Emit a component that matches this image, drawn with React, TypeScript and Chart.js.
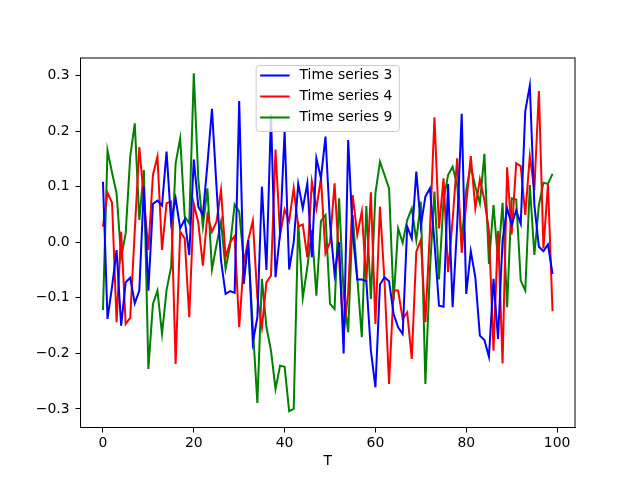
import { useEffect, useRef } from "react";
import { Chart, registerables } from "chart.js";

Chart.register(...registerables);

// x positions 0..99
const steps = Array.from({ length: 100 }, (_, i) => i);

const series3 = [
  0.109, -0.138, -0.08, -0.014, -0.15, -0.072, -0.064, -0.11, -0.087, 0.1,
  -0.087, 0.069, 0.075, 0.066, 0.163, 0.037, 0.079, 0.025, 0.041, -0.023,
  0.149, 0.064, 0.049, 0.14, 0.24, 0.1, -0.033, -0.093, -0.088, -0.091,
  0.254, -0.075, 0.004, -0.18, -0.135, 0.1, -0.05, 0.23, -0.063, 0.016,
  0.2, -0.049, 0.0, 0.105, 0.061, 0.106, -0.027, 0.151, 0.115, 0.19,
  0.034, -0.057, 0.0, -0.2, 0.184, 0.016, -0.067, -0.067, -0.07, -0.195,
  -0.261, -0.076, -0.063, -0.07, -0.129, -0.153, -0.165, 0.028, 0.007, 0.127,
  0.03, 0.082, 0.097, 0.0, -0.114, -0.116, 0.105, -0.117, 0.03, 0.231,
  -0.093, -0.016, -0.063, -0.168, -0.176, -0.206, -0.066, -0.174, 0.004, 0.061,
  0.031, 0.057, 0.033, 0.236, 0.282, 0.067, -0.008, -0.016, -0.004, -0.057,
];

const series4 = [
  0.028, 0.089, 0.071, -0.144, 0.019, -0.147, -0.136, 0.02, 0.171, 0.08,
  -0.014, 0.121, 0.154, -0.014, 0.07, 0.073, -0.219, 0.019, 0.007, -0.135,
  0.069, 0.035, -0.042, 0.049, 0.019, 0.037, 0.094, -0.027, 0.0, 0.011,
  -0.153, -0.036, 0.004, 0.039, -0.1, -0.153, -0.072, -0.06, 0.167, 0.013,
  0.059, 0.038, 0.097, 0.028, 0.032, -0.027, 0.109, 0.061, 0.115, -0.02,
  0.0, 0.106, -0.03, -0.165, -0.09, 0.085, 0.013, 0.055, -0.072, 0.09,
  -0.147, 0.064, -0.07, -0.255, -0.087, -0.087, -0.138, -0.126, -0.21, -0.017,
  0.004, -0.144, 0.02, 0.225, 0.025, 0.115, -0.054, 0.04, 0.151, -0.019,
  0.07, 0.155, 0.061, 0.113, 0.076, 0.02, -0.195, 0.02, -0.218, 0.135,
  0.014, 0.142, 0.137, 0.049, 0.155, 0.094, 0.272, -0.011, 0.105, -0.124,
];

const series9 = [
  -0.122, 0.165, 0.125, 0.088, -0.027, 0.016, 0.154, 0.214, 0.04, 0.13,
  -0.228, -0.111, -0.087, -0.165, -0.086, -0.045, 0.142, 0.187, 0.046, 0.034,
  0.304, 0.112, 0.028, 0.097, -0.049, -0.005, 0.037, -0.048, -0.005, 0.068,
  0.055, -0.033, -0.011, -0.153, -0.289, -0.066, -0.153, -0.195, -0.264, -0.222,
  -0.224, -0.304, -0.3, 0.037, -0.1, -0.045, 0.022, -0.096, 0.038, 0.049,
  -0.111, -0.12, 0.079, -0.093, -0.162, 0.049, -0.063, -0.171, 0.065, -0.102,
  0.088, 0.145, 0.121, 0.097, -0.105, 0.025, -0.001, 0.04, 0.061, 0.004,
  0.073, -0.255, -0.05, 0.091, -0.067, 0.076, 0.121, 0.136, 0.103, 0.004,
  0.094, 0.137, 0.1, 0.07, 0.159, -0.039, 0.067, -0.033, 0.071, -0.117,
  0.079, 0.077, -0.069, -0.087, 0.103, -0.023, 0.067, 0.107, 0.105, 0.123,
];

const xTicks = [0, 20, 40, 60, 80, 100];
const yTicks = [-0.3, -0.2, -0.1, 0, 0.1, 0.2, 0.3];

const FONT = "DejaVu Sans";
const FS = 13.9;

// matplotlib-style frame + legend box inside the axes
const mplDecor = {
  id: "mplDecor",
  afterDraw(chart: any) {
    const { ctx, chartArea: a } = chart;
    ctx.save();
    ctx.strokeStyle = "#000";
    ctx.lineWidth = 1;
    ctx.strokeRect(a.left, a.top, a.right - a.left, a.bottom - a.top);

    ctx.font = `${FS}px ${FONT}`;
    const items = chart.data.datasets.map((d: any) => ({ label: d.label, color: d.borderColor }));
    const textW = Math.max(...items.map((it: any) => ctx.measureText(it.label).width));
    const w = 43.4 + textW + 7;
    const h = 66;
    const x = (a.left + a.right) / 2 - w / 2;
    const y = a.top + 7.5;
    const r = 3;
    ctx.beginPath();
    ctx.moveTo(x + r, y);
    ctx.arcTo(x + w, y, x + w, y + h, r);
    ctx.arcTo(x + w, y + h, x, y + h, r);
    ctx.arcTo(x, y + h, x, y, r);
    ctx.arcTo(x, y, x + w, y, r);
    ctx.closePath();
    ctx.fillStyle = "rgba(255,255,255,0.8)";
    ctx.fill();
    ctx.strokeStyle = "#cccccc";
    ctx.stroke();

    items.forEach((it: any, k: number) => {
      const cy = y + 10 + k * 21;
      ctx.strokeStyle = it.color;
      ctx.lineWidth = 2;
      ctx.beginPath();
      ctx.moveTo(x + 4, cy);
      ctx.lineTo(x + 33.5, cy);
      ctx.stroke();
      ctx.fillStyle = "#000";
      ctx.textBaseline = "middle";
      ctx.textAlign = "left";
      ctx.fillText(it.label, x + 43.4, cy);
    });
    ctx.restore();
  },
};

const App = () => {
  const canvasRef = useRef<HTMLCanvasElement>(null);

  useEffect(() => {
    if (!canvasRef.current) return;
    const mk = (label: string, data: number[], color: string) => ({
      label,
      data: data.map((v, i) => ({ x: steps[i], y: v })),
      borderColor: color,
      backgroundColor: color,
      borderWidth: 2,
      pointRadius: 0,
      tension: 0,
      fill: false,
    });
    const chart = new Chart(canvasRef.current, {
      type: "line",
      data: {
        datasets: [
          mk("Time series 3", series3, "#0000ff"),
          mk("Time series 4", series4, "#ff0000"),
          mk("Time series 9", series9, "#008000"),
        ],
      },
      options: {
        animation: false,
        responsive: false,
        devicePixelRatio: 1,
        layout: { padding: { top: 58, right: 65, left: 0, bottom: 0 } },
        plugins: { legend: { display: false }, tooltip: { enabled: false } },
        scales: {
          x: {
            type: "linear",
            min: -4.95,
            max: 103.95,
            afterBuildTicks: (s: any) => {
              s.ticks = xTicks.map((v) => ({ value: v }));
            },
            afterFit: (s: any) => {
              s.height = 52.5;
            },
            grid: { drawOnChartArea: false, tickLength: 5, color: "#000" },
            border: { color: "#000" },
            ticks: {
              color: "#000",
              font: { family: FONT, size: FS },
              padding: 3,
              maxRotation: 0,
              callback: (v: any) => String(v),
            },
            title: {
              display: true,
              text: "T",
              color: "#000",
              font: { family: FONT, size: FS },
              padding: { top: 2, bottom: 10 },
            },
          },
          y: {
            type: "linear",
            min: -0.3333,
            max: 0.3315,
            afterBuildTicks: (s: any) => {
              s.ticks = yTicks.map((v) => ({ value: v }));
            },
            afterFit: (s: any) => {
              s.width = 80.5;
            },
            grid: { drawOnChartArea: false, tickLength: 5, color: "#000" },
            border: { color: "#000" },
            ticks: {
              color: "#000",
              font: { family: FONT, size: FS },
              padding: 6,
              callback: (v: any) => Number(v).toFixed(1).replace("-", "\u2212"),
            },
          },
        },
      },
      plugins: [mplDecor],
    });

    return () => {
      chart.destroy();
    };
  }, []);

  return (
    <div style={{ position: "fixed", left: 0, top: 0, width: 640, height: 480, background: "#fff" }}>
      <canvas ref={canvasRef} width={640} height={480}></canvas>
    </div>
  );
};

export default App;
